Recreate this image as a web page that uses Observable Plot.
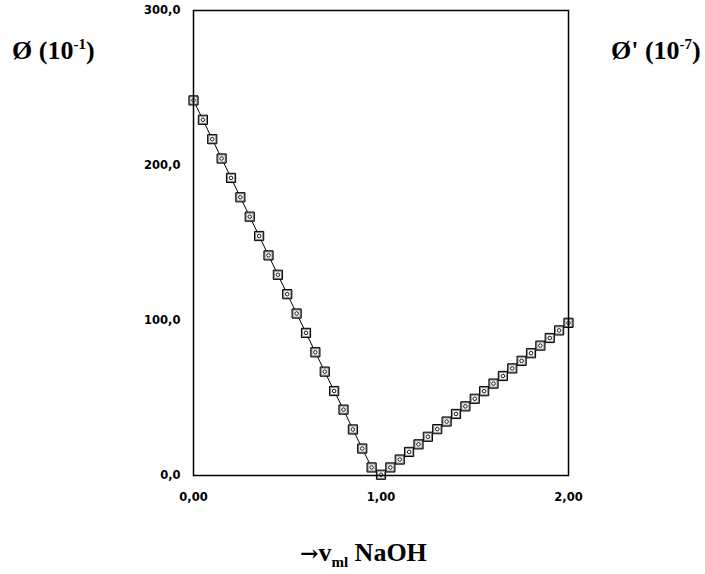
<!DOCTYPE html>
<html>
<head>
<meta charset="utf-8">
<script src="https://cdn.jsdelivr.net/npm/d3@7"></script>
<script src="https://cdn.jsdelivr.net/npm/@observablehq/plot@0.6"></script>
<style>
  html, body { margin: 0; padding: 0; background: #fff; }
  #wrap { position: relative; width: 705px; height: 574px; }
  .lbl { position: absolute; font-family: "Liberation Serif", "Times New Roman", serif; font-weight: bold; font-size: 26px; line-height: 26px; white-space: nowrap; color: #000; }
  .lbl sup, .lbl sub { font-size: 15px; line-height: 0; }
  .arr { font-family: "DejaVu Serif", serif; font-size: 22px; }
</style>
</head>
<body>
<div id="wrap"></div>
<script>
// volume of NaOH (ml)
const vol = [0.00, 0.05, 0.10, 0.15, 0.20, 0.25, 0.30, 0.35, 0.40, 0.45,
             0.50, 0.55, 0.60, 0.65, 0.70, 0.75, 0.80, 0.85, 0.90, 0.95,
             1.00, 1.05, 1.10, 1.15, 1.20, 1.25, 1.30, 1.35, 1.40, 1.45,
             1.50, 1.55, 1.60, 1.65, 1.70, 1.75, 1.80, 1.85, 1.90, 1.95, 2.00];
// conductance values
const phi = [242, 229.5, 217, 204.5, 192, 179.5, 167, 154.5, 142, 129.5,
             117, 104.5, 92, 79.5, 67, 54.5, 42.5, 29.7, 17.4, 5.2,
             0.5, 5.2, 10.3, 15.2, 20.1, 25, 29.9, 34.8, 39.7, 44.6,
             49.5, 54.4, 59.3, 64.2, 69.1, 74, 78.9, 83.8, 88.7, 93.6, 98.5];
const xTicks = [0, 1, 2];
const yTicks = [0, 100, 200, 300];

const data = vol.map((v, i) => ({x: v, y: phi[i]}));

const chart = Plot.plot({
  width: 705,
  height: 574,
  marginLeft: 193,
  marginRight: 137,
  marginTop: 10,
  marginBottom: 99,
  style: {fontFamily: "DejaVu Sans", fontWeight: "bold", fontSize: "11.5px", color: "#000", background: "#fff"},
  x: {domain: [0, 2]},
  y: {domain: [0, 300]},
  marks: [
    Plot.axisX({ticks: xTicks, tickSize: 0, tickPadding: 17, label: null,
      tickFormat: d => d.toFixed(2).replace(".", ","), fontWeight: "bold", fontSize: 11.5}),
    Plot.axisY({ticks: yTicks, tickSize: 0, tickPadding: 13, label: null,
      tickFormat: d => d.toFixed(1).replace(".", ","), fontWeight: "bold", fontSize: 11.5}),
    Plot.line(data, {x: "x", y: "y", stroke: "black", strokeWidth: 1}),
    Plot.dot(data, {x: "x", y: "y", symbol: "square", r: 5.2, fill: "#8a8a8a", stroke: "black", strokeWidth: 1}),
    Plot.dot(data, {x: "x", y: "y", symbol: "square", r: 3.4, fill: "white", stroke: "none"}),
    Plot.dot(data, {x: "x", y: "y", symbol: "circle", r: 1.8, fill: "white", stroke: "black", strokeWidth: 0.9}),
    Plot.frame({stroke: "black", strokeWidth: 1.5})
  ]
});

const wrap = document.getElementById("wrap");
wrap.appendChild(chart);

function addLabel(html, left, top) {
  const d = document.createElement("div");
  d.className = "lbl";
  d.innerHTML = html;
  d.style.left = left + "px";
  d.style.top = top + "px";
  wrap.appendChild(d);
}
addLabel("Ø (10<sup>-1</sup>)", 12, 38);
addLabel("Ø' (10<sup>-7</sup>)", 611, 38);
addLabel("<span class=\"arr\">→</span>v<sub>ml</sub> NaOH", 300, 540);
</script>
</body>
</html>
